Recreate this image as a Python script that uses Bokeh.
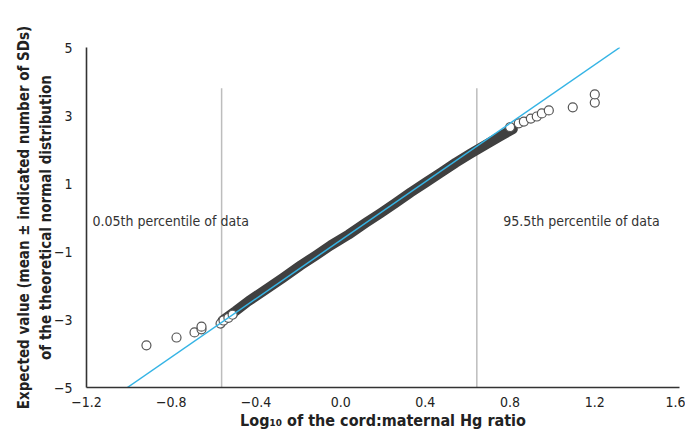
from bokeh.plotting import figure
from bokeh.models import FixedTicker
from bokeh.core.properties import value
from bokeh.embed import file_html
from bokeh.resources import INLINE

FONT = "'Liberation Sans Narrow', 'DejaVu Sans Condensed', 'Liberation Sans', sans-serif"

# --- data ---
x_ticks = [-1.2, -0.8, -0.4, 0.0, 0.4, 0.8, 1.2, 1.6]
y_ticks = [-5, -3, -1, 1, 3, 5]

# dense body of the Q-Q plot (centre of the band of overlapping points)
band_x = [-0.558, -0.496, -0.435, -0.354, -0.274, -0.189, -0.118, -0.047, 0.038, 0.118,
          0.189, 0.260, 0.331, 0.402, 0.473, 0.543, 0.614, 0.685, 0.756, 0.813]
band_y = [-3.03, -2.75, -2.46, -2.12, -1.78, -1.41, -1.12, -0.82, -0.50, -0.16,
          0.13, 0.43, 0.74, 1.03, 1.32, 1.61, 1.88, 2.14, 2.40, 2.60]

# individually visible points in the tails
tail_x = [-0.917, -0.775, -0.690, -0.657, -0.657, -0.567, -0.553, -0.53, -0.51,
          0.80, 0.841, 0.865, 0.898, 0.926, 0.950, 0.983, 1.096, 1.200, 1.200]
tail_y = [-3.76, -3.53, -3.38, -3.29, -3.21, -3.12, -3.03, -2.95, -2.86,
          2.66, 2.77, 2.82, 2.91, 2.97, 3.06, 3.15, 3.24, 3.38, 3.62]

# theoretical normal reference line
ref_x = [-1.007, 1.318]
ref_y = [-5.0, 5.0]

# percentile markers
pct_x = [-0.562, 0.643]
pct_top = [3.8, 3.8]
pct_labels = ["0.05th percentile of data", "95.5th percentile of data"]
pct_label_x = [-1.172, 0.768]
pct_label_y = [-0.10, -0.10]

x_title = "Log\u2081\u2080 of the cord:maternal Hg ratio"
y_title = "Expected value (mean \u00b1 indicated number of SDs)\nof the theoretical normal distribution"

p = figure(frame_width=593, frame_height=340, x_range=(-1.2, 1.6), y_range=(-5, 5),
           output_backend="svg", toolbar_location=None,
           min_border_left=86, min_border_right=6, min_border_top=47, min_border_bottom=40)
p.outline_line_color = None
p.grid.grid_line_color = None
p.background_fill_color = "white"

for ax in (p.xaxis[0], p.yaxis[0]):
    ax.axis_line_color = "#333333"
    ax.axis_line_width = 1.6
    ax.major_tick_line_color = None
    ax.minor_tick_line_color = None
    ax.major_label_text_font = FONT
    ax.major_label_text_font_size = "14px"
    ax.major_label_text_color = "#222222"
    ax.axis_label_text_font = FONT
    ax.axis_label_text_font_style = "bold"
    ax.axis_label_text_color = "#222222"

p.xaxis.ticker = FixedTicker(ticks=x_ticks)
p.xaxis.major_label_overrides = {t: ("\u2212" if t < 0 else "") + f"{abs(t):.1f}" for t in x_ticks}
p.xaxis.major_label_standoff = 3
p.xaxis.axis_label = x_title
p.xaxis.axis_label_text_font_size = "16px"
p.xaxis.axis_label_standoff = 1

p.yaxis.ticker = FixedTicker(ticks=y_ticks)
p.yaxis.major_label_overrides = {t: ("\u2212" if t < 0 else "") + f"{abs(t)}" for t in y_ticks}
p.yaxis.major_label_standoff = 8
p.yaxis.axis_label = y_title
p.yaxis.axis_label_text_font_size = "15px"
p.yaxis.axis_label_standoff = -4

# percentile lines
p.segment(x0=pct_x, y0=[-5, -5], x1=pct_x, y1=pct_top, line_color="#BDBDBD", line_width=1.5)

# dense band
p.line(band_x, band_y, line_color="#404040", line_width=10, line_cap="round", line_join="round")

# tail points
p.scatter(tail_x, tail_y, marker="circle", size=9, fill_color="white",
          line_color="#555555", line_width=1.2)

# reference line
p.line(ref_x, ref_y, line_color="#35B4E5", line_width=1.5)

# percentile annotations
p.text(x=pct_label_x, y=pct_label_y, text=pct_labels, text_font=value(FONT),
       text_font_size="14px", text_color="#333333", text_baseline="middle", text_align="left")

open("out.html", "w").write(file_html(p, INLINE))
